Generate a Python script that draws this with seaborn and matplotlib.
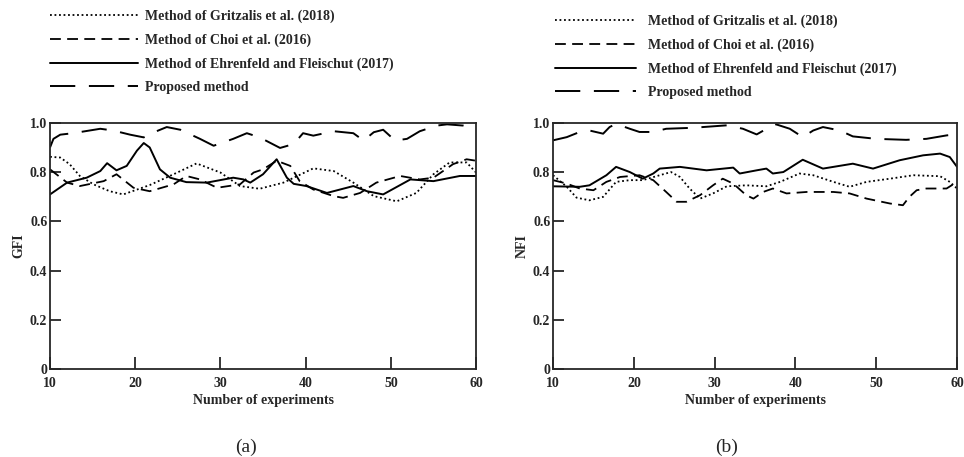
import matplotlib
matplotlib.use("Agg")
import matplotlib.pyplot as plt
import seaborn as sns

# ----------------------------
# Data
# ----------------------------
labels = ["Method of Gritzalis et al. (2018)",
          "Method of Choi et al. (2016)",
          "Method of Ehrenfeld and Fleischut (2017)",
          "Proposed method"]

# (a) GFI
gfi_grit_x = [10, 11.2, 12.3, 13.5, 15.1, 17.0, 18.6, 21.7, 24.5, 27.2, 30.0, 32.3, 34.6, 37.4,
              40.9, 43.3, 45.6, 48.0, 50.7, 53.0, 55.0, 56.9, 58.9, 60]
gfi_grit_y = [0.863, 0.860, 0.833, 0.785, 0.751, 0.723, 0.710, 0.748, 0.792, 0.836, 0.799, 0.744,
              0.733, 0.758, 0.816, 0.805, 0.758, 0.703, 0.682, 0.716, 0.792, 0.840, 0.840, 0.799]

gfi_choi_x = [10, 12.0, 13.5, 16.3, 17.8, 19.8, 21.7, 24.5, 26.0, 27.6, 29.6, 32.3, 33.9, 35.0,
              36.6, 38.2, 39.3, 40.9, 43.3, 44.4, 46.4, 48.3, 51.1, 53.4, 55.0, 57.3, 58.9, 60]
gfi_choi_y = [0.812, 0.758, 0.744, 0.764, 0.792, 0.737, 0.723, 0.751, 0.785, 0.771, 0.737, 0.751,
              0.799, 0.812, 0.847, 0.826, 0.764, 0.730, 0.703, 0.696, 0.716, 0.758, 0.785, 0.771,
              0.778, 0.833, 0.853, 0.847]

gfi_ehr_x = [10, 12.0, 14.3, 15.9, 16.7, 17.8, 19.0, 20.2, 21.0, 21.7, 22.9, 24.1, 26.0, 28.4,
             31.5, 32.7, 33.5, 35.0, 36.6, 37.8, 38.6, 40.1, 42.5, 45.6, 47.2, 49.1, 52.3, 55.0,
             58.1, 60]
gfi_ehr_y = [0.710, 0.758, 0.778, 0.805, 0.837, 0.808, 0.826, 0.888, 0.919, 0.901, 0.812, 0.778,
             0.760, 0.758, 0.778, 0.771, 0.758, 0.792, 0.853, 0.778, 0.753, 0.744, 0.716, 0.744,
             0.723, 0.710, 0.771, 0.764, 0.785, 0.785]

gfi_prop_x = [10, 10.4, 11.2, 12.7, 15.9, 17.4, 19.4, 21.0, 22.5, 23.7, 25.3, 27.6, 29.2, 31.5,
              33.1, 34.6, 37.0, 38.6, 39.7, 40.9, 43.3, 45.6, 46.8, 48.0, 49.1, 50.5, 51.9, 53.4,
              55.4, 56.6, 58.5, 60]
gfi_prop_y = [0.901, 0.936, 0.953, 0.959, 0.977, 0.970, 0.953, 0.942, 0.967, 0.984, 0.973, 0.936,
              0.908, 0.936, 0.959, 0.942, 0.899, 0.915, 0.959, 0.949, 0.967, 0.959, 0.929, 0.963,
              0.973, 0.929, 0.936, 0.967, 0.990, 0.995, 0.990, 0.977]

# (b) NFI
nfi_grit_x = [10, 11.7, 12.9, 14.5, 16.2, 17.8, 19.5, 21.1, 23.2, 24.6, 25.7, 26.9, 28.2, 29.8,
              31.5, 33.9, 36.4, 38.1, 40.5, 42.2, 44.7, 46.7, 48.8, 51.7, 54.6, 57.9, 59.1, 60]
nfi_grit_y = [0.788, 0.741, 0.697, 0.686, 0.700, 0.761, 0.768, 0.768, 0.788, 0.801, 0.781, 0.734,
              0.693, 0.714, 0.743, 0.747, 0.743, 0.761, 0.795, 0.788, 0.761, 0.741, 0.761, 0.774,
              0.788, 0.784, 0.761, 0.734]

nfi_choi_x = [10, 11.7, 13.3, 15.0, 16.6, 18.3, 20.7, 22.4, 24.0, 25.3, 26.5, 28.2, 29.8, 31.0,
              32.3, 33.9, 34.8, 36.0, 37.2, 38.9, 41.4, 44.7, 46.7, 48.8, 51.7, 53.3, 54.1, 55.0,
              56.2, 58.7, 60]
nfi_choi_y = [0.768, 0.754, 0.734, 0.727, 0.761, 0.781, 0.788, 0.768, 0.720, 0.680, 0.680, 0.707,
              0.747, 0.774, 0.754, 0.707, 0.693, 0.720, 0.734, 0.714, 0.720, 0.720, 0.714, 0.693,
              0.673, 0.666, 0.700, 0.727, 0.734, 0.734, 0.761]

nfi_ehr_x = [10, 13.3, 14.5, 16.6, 17.8, 19.5, 21.1, 22.4, 23.2, 25.7, 29.0, 32.3, 33.1, 35.2,
             36.4, 37.2, 38.5, 40.9, 43.4, 47.1, 49.6, 52.9, 55.8, 57.9, 59.1, 60]
nfi_ehr_y = [0.743, 0.741, 0.747, 0.788, 0.822, 0.801, 0.774, 0.795, 0.815, 0.822, 0.808, 0.819,
             0.795, 0.808, 0.815, 0.795, 0.801, 0.851, 0.815, 0.835, 0.815, 0.849, 0.869, 0.876,
             0.862, 0.822]

nfi_prop_x = [10, 11.7, 13.3, 14.5, 16.2, 17.0, 17.8, 19.5, 20.7, 22.4, 24.0, 27.3, 31.5, 33.5,
              35.2, 36.8, 37.6, 39.3, 40.9, 42.2, 43.4, 45.5, 47.1, 50.0, 53.7, 56.2, 58.7, 60]
nfi_prop_y = [0.930, 0.943, 0.964, 0.970, 0.957, 0.984, 0.997, 0.977, 0.964, 0.964, 0.977, 0.981,
              0.991, 0.977, 0.954, 0.984, 0.995, 0.977, 0.943, 0.970, 0.984, 0.970, 0.946, 0.936,
              0.932, 0.936, 0.950, 0.955]

# ----------------------------
# Style
# ----------------------------
sns.set_style("ticks")
plt.rcParams['font.family'] = ['Liberation Serif', 'DejaVu Serif']
plt.rcParams['font.weight'] = 'bold'
plt.rcParams['axes.labelweight'] = 'bold'
plt.rcParams['font.size'] = 10

styles = [dict(linestyle=(0, (1, 1.5)), linewidth=1.3),
          dict(linestyle=(0, (6, 3.5)), linewidth=1.3),
          dict(linestyle='-', linewidth=1.4),
          dict(linestyle=(0, (13, 7)), linewidth=1.4)]

fig = plt.figure(figsize=(9.64, 4.57), dpi=100)
ax_a = fig.add_axes([0.0519, 0.1926, 0.4419, 0.538])
ax_b = fig.add_axes([0.5737, 0.1926, 0.4191, 0.538])

panels = [
    (ax_a, "GFI", [(gfi_grit_x, gfi_grit_y), (gfi_choi_x, gfi_choi_y),
                   (gfi_ehr_x, gfi_ehr_y), (gfi_prop_x, gfi_prop_y)],
     (0.052, 0.979), 6.3, 0.5, "(a)", 0.255),
    (ax_b, "NFI", [(nfi_grit_x, nfi_grit_y), (nfi_choi_x, nfi_choi_y),
                   (nfi_ehr_x, nfi_ehr_y), (nfi_prop_x, nfi_prop_y)],
     (0.576, 0.968), 5.8, 0.9, "(b)", 0.754),
]

for ax, ylab, series, leg_pos, hlen, hpad, tag, tag_x in panels:
    for (xs, ys), lab, st in zip(series, labels, styles):
        sns.lineplot(x=xs, y=ys, ax=ax, color='black', label=lab, estimator=None, **st)

    ax.set_xlim(10, 60)
    ax.set_ylim(0, 1.0)
    ax.set_xticks([10, 20, 30, 40, 50, 60])
    ax.set_yticks([0, 0.2, 0.4, 0.6, 0.8, 1.0])
    ax.set_yticklabels(["0", "0.2", "0.4", "0.6", "0.8", "1.0"])
    ax.tick_params(axis='x', direction='in', length=9, width=1.3, pad=5.5, labelsize=10)
    ax.tick_params(axis='y', direction='in', length=8, width=1.3, pad=2, labelsize=10)
    for sp in ax.spines.values():
        sp.set_linewidth(1.3)
        sp.set_visible(True)
    ax.set_xlabel("Number of experiments", fontsize=10, labelpad=3)
    ax.set_ylabel(ylab, fontsize=10, labelpad=3)

    handles, labs = ax.get_legend_handles_labels()
    ax.get_legend().remove()
    fig.legend(handles, labs, loc='upper left', bbox_to_anchor=leg_pos, frameon=False,
               borderpad=0, borderaxespad=0, handlelength=hlen, handletextpad=hpad,
               labelspacing=0.75, prop={'family': 'Liberation Serif', 'weight': 'bold', 'size': 10})

    fig.text(tag_x, 0.022, tag, ha='center', va='center', fontsize=14,
             fontweight='normal', family='Liberation Serif')

fig.savefig("out.png", dpi=100, facecolor='white')
